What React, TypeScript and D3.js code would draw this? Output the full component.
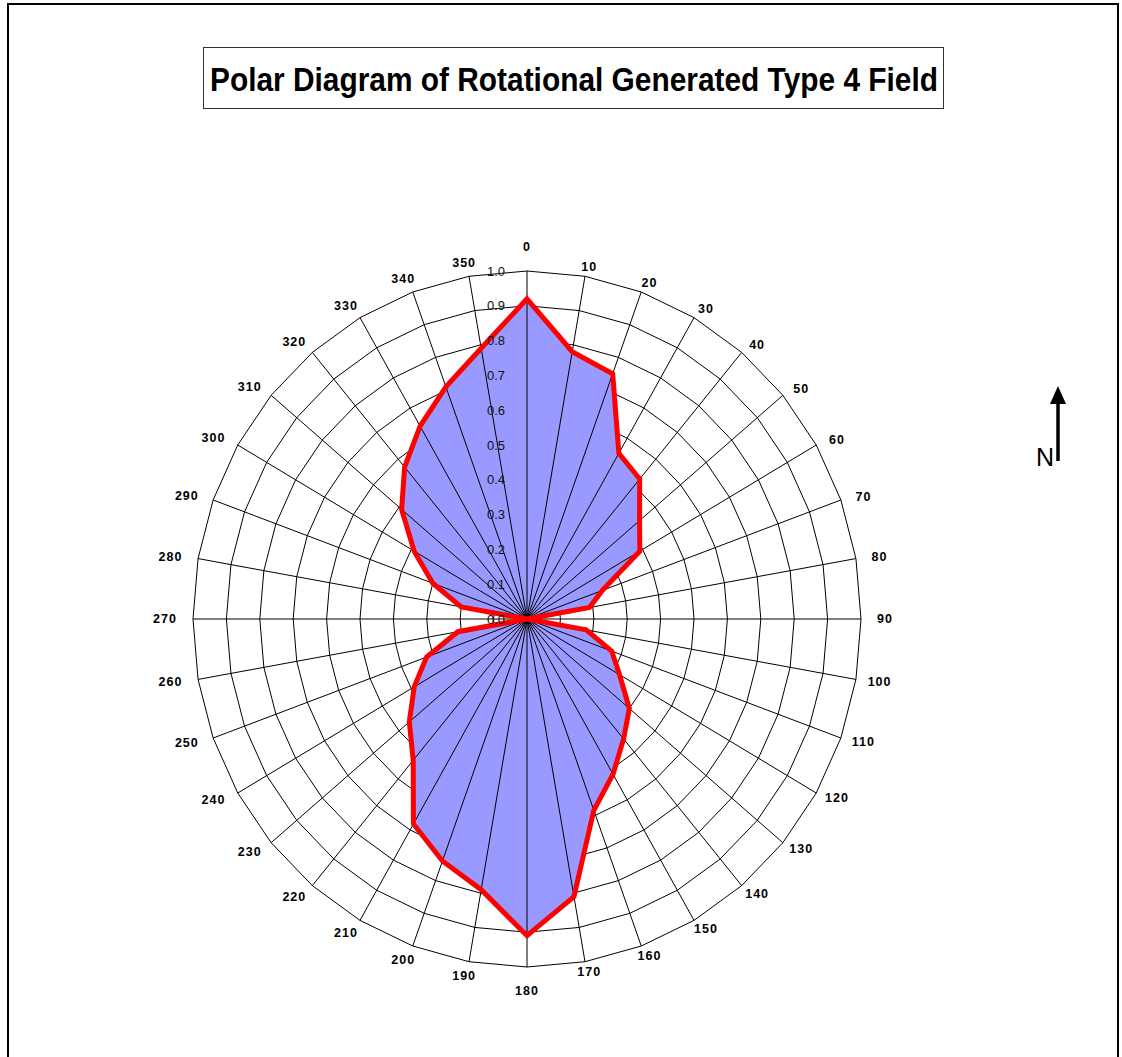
// App.tsx
import { useEffect, useRef } from 'react';
import * as d3 from 'd3';

// bearings (degrees clockwise from north)
const angles = [
  0, 10, 20, 30, 40, 50, 60, 70, 80, 90, 100, 110,
  120, 130, 140, 150, 160, 170, 180, 190, 200, 210, 220, 230,
  240, 250, 260, 270, 280, 290, 300, 310, 320, 330, 340, 350,
];

// field strength at each bearing
const fieldValues = [
  0.92, 0.78, 0.75, 0.55, 0.525, 0.44, 0.39, 0.24, 0.19, 0.0, 0.18, 0.27,
  0.32, 0.40, 0.45, 0.515, 0.585, 0.81, 0.91, 0.79, 0.74, 0.68, 0.53, 0.46,
  0.39, 0.32, 0.21, 0.0, 0.20, 0.30, 0.39, 0.49, 0.57, 0.64, 0.71, 0.79,
];

const ringTicks = [0.0, 0.1, 0.2, 0.3, 0.4, 0.5, 0.6, 0.7, 0.8, 0.9, 1.0];
const ringLabels = ['0.0', '0.1', '0.2', '0.3', '0.4', '0.5', '0.6', '0.7', '0.8', '0.9', '1.0'];

const title = 'Polar Diagram of Rotational Generated Type 4 Field';

const App = () => {
  const ref = useRef<SVGSVGElement>(null);

  useEffect(() => {
    const width = 1122;
    const height = 1057;
    const cx = 527;
    const cy = 619;
    const rx = 334;
    const ry = 348;
    const font = "'Liberation Sans', Arial, sans-serif";

    const svg = d3.select(ref.current)
      .attr('width', width)
      .attr('height', height);
    svg.selectAll('*').remove();

    svg.append('rect')
      .attr('width', width)
      .attr('height', height)
      .attr('fill', '#fff');

    // outer frame
    svg.append('rect')
      .attr('x', 8)
      .attr('y', 4)
      .attr('width', 1110)
      .attr('height', 1080)
      .attr('fill', 'none')
      .attr('stroke', '#000')
      .attr('stroke-width', 2);

    // title box
    svg.append('rect')
      .attr('x', 203.5)
      .attr('y', 47.5)
      .attr('width', 740)
      .attr('height', 61)
      .attr('fill', '#fff')
      .attr('stroke', '#333')
      .attr('stroke-width', 1);

    svg.append('text')
      .attr('x', 574)
      .attr('y', 91)
      .attr('text-anchor', 'middle')
      .attr('font-family', font)
      .attr('font-weight', 'bold')
      .attr('font-size', 33)
      .attr('textLength', 728)
      .attr('lengthAdjust', 'spacingAndGlyphs')
      .text(title);

    const r = d3.scaleLinear().domain([0, 1]).range([0, 1]);
    const x = d3.scaleLinear().domain([-1, 1]).range([cx - rx, cx + rx]);
    const y = d3.scaleLinear().domain([-1, 1]).range([cy + ry, cy - ry]);
    const rad = (a: number) => (a * Math.PI) / 180;
    const pt = (a: number, v: number): [number, number] => [
      x(r(v) * Math.sin(rad(a))),
      y(r(v) * Math.cos(rad(a))),
    ];

    const line = d3.line().curve(d3.curveLinearClosed);
    const g = svg.append('g');

    // grid rings (polygons like Excel radar)
    g.selectAll('.ring')
      .data(ringTicks.filter((t) => t > 0))
      .enter()
      .append('path')
      .attr('class', 'ring')
      .attr('d', (t) => line(angles.map((a) => pt(a, t))))
      .attr('fill', 'none')
      .attr('stroke', '#000')
      .attr('stroke-width', 1);

    // data area
    const dataPts = angles.map((a, i) => pt(a, fieldValues[i]));
    g.append('path')
      .attr('d', line(dataPts))
      .attr('fill', '#9999ff')
      .attr('stroke', 'none');

    // spokes
    g.selectAll('.spoke')
      .data(angles)
      .enter()
      .append('line')
      .attr('class', 'spoke')
      .attr('x1', x(0))
      .attr('y1', y(0))
      .attr('x2', (a) => pt(a, 1)[0])
      .attr('y2', (a) => pt(a, 1)[1])
      .attr('stroke', '#000')
      .attr('stroke-width', 1);

    // data outline
    g.append('path')
      .attr('d', line(dataPts))
      .attr('fill', 'none')
      .attr('stroke', '#ff0000')
      .attr('stroke-width', 5)
      .attr('stroke-linejoin', 'miter');

    // ring value labels
    g.selectAll('.rlabel')
      .data(ringTicks)
      .enter()
      .append('text')
      .attr('class', 'rlabel')
      .attr('x', cx - 22)
      .attr('y', (t) => y(r(t)))
      .attr('dy', '0.35em')
      .attr('text-anchor', 'end')
      .attr('font-family', font)
      .attr('font-size', 13)
      .attr('fill', '#111')
      .text((_, i) => ringLabels[i]);

    // bearing labels
    const labelR = (a: number) => (a % 180 === 0 ? 372 : a > 180 ? 362 : 358);
    g.selectAll('.alabel')
      .data(angles)
      .enter()
      .append('text')
      .attr('class', 'alabel')
      .attr('x', (a) => cx + labelR(a) * Math.sin(rad(a)))
      .attr('y', (a) => cy - labelR(a) * Math.cos(rad(a)))
      .attr('dy', '0.35em')
      .attr('text-anchor', 'middle')
      .attr('font-family', font)
      .attr('font-weight', 'bold')
      .attr('font-size', 12.5)
      .attr('letter-spacing', 1)
      .text((a) => String(a));

    // north arrow
    svg.append('line')
      .attr('x1', 1058)
      .attr('y1', 461)
      .attr('x2', 1058)
      .attr('y2', 400)
      .attr('stroke', '#000')
      .attr('stroke-width', 3.5);
    svg.append('path')
      .attr('d', 'M1058,386 L1050,404 L1066,404 Z')
      .attr('fill', '#000');
    svg.append('text')
      .attr('x', 1045)
      .attr('y', 466)
      .attr('text-anchor', 'middle')
      .attr('font-family', font)
      .attr('font-size', 25)
      .text('N');
  }, []);

  return (
    <svg
      ref={ref}
      style={{ position: 'absolute', left: 0, top: 0, display: 'block' }}
    ></svg>
  );
};

export default App;
